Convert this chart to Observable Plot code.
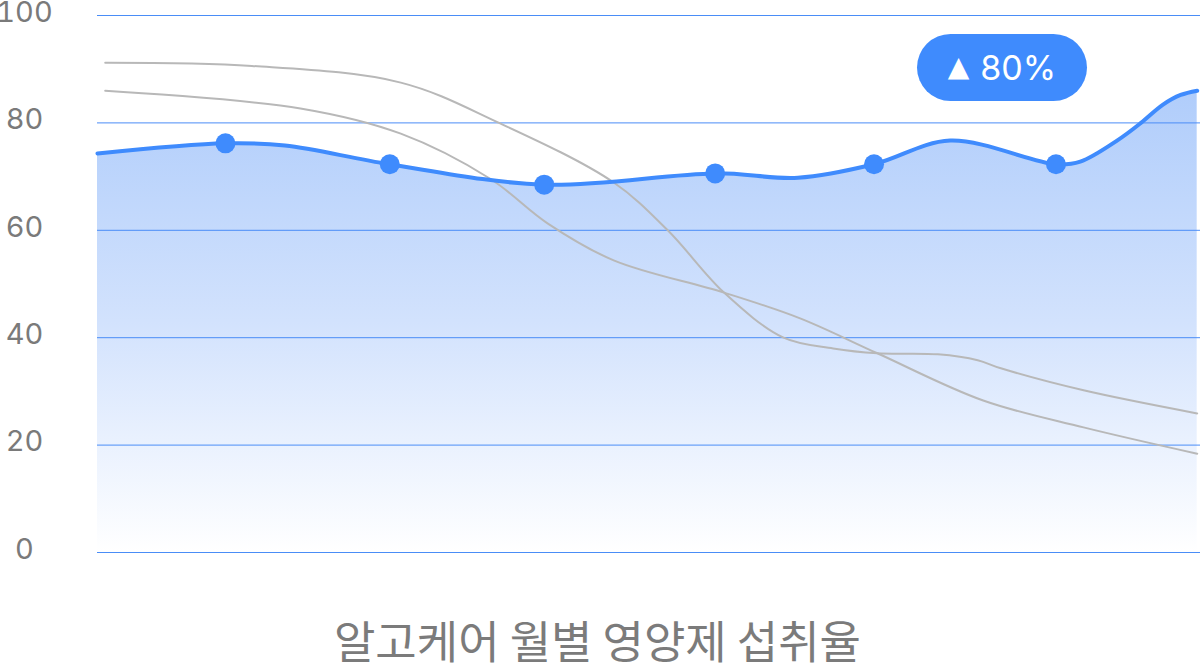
<!DOCTYPE html>
<html>
<head>
<meta charset="utf-8">
<script src="https://cdn.jsdelivr.net/npm/d3@7"></script>
<script src="https://cdn.jsdelivr.net/npm/@observablehq/plot@0.6"></script>
<style>
  html, body { margin: 0; padding: 0; background: #fff; }
  #wrap { position: relative; width: 1200px; height: 663px; overflow: hidden; }
  #chart { position: absolute; left: 0; top: 0; }
  #title { position: absolute; left: 0; width: 1195px; top: 618px; line-height: 44px; text-align: center;
           font-family: "Noto Sans CJK KR", sans-serif; font-size: 45px; color: #7b7b7b; }
  #badge { position: absolute; left: 917px; top: 34px; width: 170px; height: 67px; border-radius: 34px;
           background: #3f8bfd; color: #fff; display: flex; align-items: center; justify-content: center;
           font-family: Inter, sans-serif; font-size: 34px; }
  #badge .tri { font-family: "DejaVu Sans", sans-serif; font-size: 28px; margin-right: 11px; position: relative; top: -1px; }
</style>
</head>
<body>
<div id="wrap">
  <div id="chart"></div>
  <div id="badge"><span class="tri">▲</span><span id="badgeText"></span></div>
  <div id="title"></div>
</div>
<script>
// ---- data ----
const title = "알고케어 월별 영양제 섭취율";
const badgeLabel = "80%";
const yTicks = [0, 20, 40, 60, 80, 100];

// main (blue) series: position along month axis (0-100) and intake rate
const blueX = [0, 11.6, 17, 26.5, 40.5, 56, 63.5, 70.4, 77.3, 86.9, 89.1, 92.5, 94.6, 96.6, 98.2, 99.7];
const blueV = [74.3, 76.2, 75.8, 72.3, 68.5, 70.6, 69.8, 72.3, 76.7, 72.3, 72.8, 76.8, 80.0, 83.4, 85.2, 86.0];
const blueDot = [false, true, false, true, true, true, false, true, false, true, false, false, false, false, false, false];

// gray comparison series A
const grayAX = [0.7, 14, 27.5, 36.3, 46.8, 51.7, 56.8, 62.2, 66.7, 70.7, 76.2, 79.8, 81.9, 89.4, 99.7];
const grayAV = [91.2, 90.6, 87.5, 80.1, 68.9, 60.0, 48.4, 40.0, 38.0, 37.1, 36.9, 35.8, 34.3, 30.2, 25.9];

// gray comparison series B
const grayBX = [0.7, 18.4, 27.5, 35.6, 40.8, 46.8, 56.8, 63.7, 70.7, 80.3, 89.4, 99.7];
const grayBV = [86.0, 82.7, 78.0, 69.6, 61.3, 54.4, 48.4, 43.6, 37.1, 28.3, 23.3, 18.4];

// ---- build tables ----
const blue = blueX.map((x, i) => ({x, v: blueV[i], dot: blueDot[i]}));
const gray = [
  ...grayAX.map((x, i) => ({series: "A", x, v: grayAV[i]})),
  ...grayBX.map((x, i) => ({series: "B", x, v: grayBV[i]}))
];

const BLUE = "#3f8bfd";

const defs = () => {
  const d = d3.create("svg:defs");
  const g = d.append("linearGradient").attr("id", "areaGrad")
    .attr("x1", 0).attr("y1", 0).attr("x2", 0).attr("y2", 1);
  g.append("stop").attr("offset", "0%").attr("stop-color", "#b0cdfb");
  g.append("stop").attr("offset", "50%").attr("stop-color", "#d2e2fd");
  g.append("stop").attr("offset", "100%").attr("stop-color", "#ffffff");
  return d.node();
};

const chart = Plot.plot({
  width: 1200,
  height: 575,
  marginLeft: 97,
  marginRight: 0,
  marginTop: 15,
  marginBottom: 23,
  style: {background: "transparent", overflow: "visible"},
  x: {domain: [0, 100], axis: null},
  y: {domain: [0, 100]},
  marks: [
    defs,
    Plot.areaY(blue, {x: "x", y: "v", curve: "catmull-rom", fill: "url(#areaGrad)"}),
    Plot.ruleY(yTicks, {stroke: "#4a8df7", strokeWidth: 1}),
    Plot.axisY({ticks: yTicks, tickSize: 0, tickPadding: 73, textAnchor: "middle", dy: -3,
                fontSize: 29, fill: "#7a7a7a", fontFamily: "Inter, sans-serif", label: null}),
    Plot.lineY(gray, {x: "x", y: "v", z: "series", curve: "catmull-rom", stroke: "#b8b8b8", strokeWidth: 2}),
    Plot.lineY(blue, {x: "x", y: "v", curve: "catmull-rom", stroke: BLUE, strokeWidth: 4}),
    Plot.dot(blue.filter(d => d.dot), {x: "x", y: "v", r: 10, fill: BLUE, stroke: null})
  ]
});

document.getElementById("chart").appendChild(chart);
document.getElementById("title").textContent = title;
document.getElementById("badgeText").textContent = badgeLabel;
</script>
</body>
</html>
